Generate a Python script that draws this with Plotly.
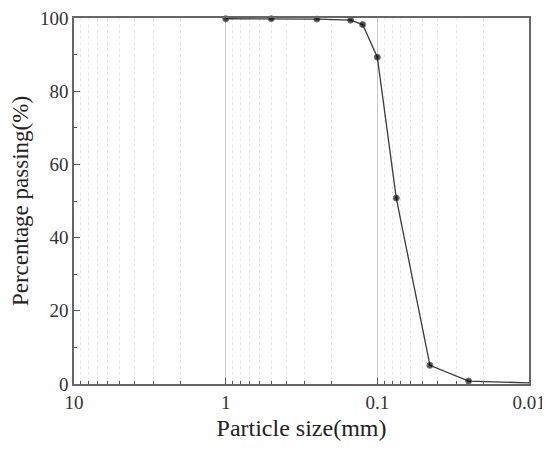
import plotly.graph_objects as go

# Grain size distribution
particle_size = [1.0, 0.5, 0.25, 0.15, 0.125, 0.1, 0.075, 0.045, 0.025, 0.01]
percent_passing = [99.8, 99.8, 99.7, 99.4, 98.2, 89.3, 50.8, 5.1, 0.8, 0.3]
marker_sizes = [6, 6, 6, 6, 6, 6, 6, 6, 6, 0]

x_tickvals = [10, 1, 0.1, 0.01]
x_ticktext = ["10", "1", "0.1", "0.01"]
y_tickvals = [0, 20, 40, 60, 80, 100]

serif = "Liberation Serif, Times New Roman, serif"

fig = go.Figure()
fig.add_trace(go.Scatter(
    x=particle_size,
    y=percent_passing,
    mode="lines+markers",
    line=dict(color="#3a3a3a", width=1.3),
    marker=dict(color="black", size=marker_sizes),
    cliponaxis=False,
    showlegend=False,
))

# page body has an 8px default margin, so size the figure to fit inside the window
fig.update_layout(
    width=542,
    height=444,
    margin=dict(l=66, r=21, t=10, b=68),
    paper_bgcolor="white",
    plot_bgcolor="white",
    font=dict(family=serif, size=19, color="#333"),
)

fig.update_xaxes(
    type="log",
    range=[1, -2],
    automargin=False,
    ticklabeloverflow="allow",
    tickvals=x_tickvals,
    ticktext=x_ticktext,
    ticks="inside",
    ticklen=6,
    tickcolor="#555",
    showline=True,
    linecolor="#666",
    linewidth=1.5,
    mirror=True,
    showgrid=True,
    gridcolor="#c8c8c8",
    gridwidth=1,
    zeroline=False,
    minor=dict(ticks="inside", ticklen=3, tickcolor="#555", dtick="D1",
               showgrid=True, gridcolor="#e8e8e8", griddash="dot"),
    title=dict(text="Particle size(mm)", font=dict(size=24, color="#222"), standoff=8),
    tickfont=dict(size=19),
)

fig.update_yaxes(
    range=[0, 100],
    automargin=False,
    ticklabeloverflow="allow",
    tickvals=y_tickvals,
    ticks="inside",
    ticklen=6,
    tickcolor="#555",
    showline=True,
    linecolor="#666",
    linewidth=1.5,
    mirror=True,
    showgrid=False,
    zeroline=False,
    minor=dict(ticks="inside", ticklen=3, tickcolor="#555", dtick=10),
    title=dict(text="Percentage passing(%)", font=dict(size=23, color="#222"), standoff=10),
    tickfont=dict(size=19),
)

fig.write_html("out.html")
